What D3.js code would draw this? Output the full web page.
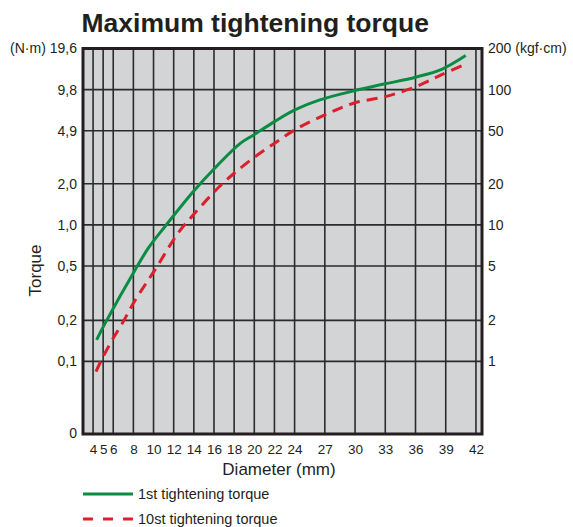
<!DOCTYPE html>
<html><head><meta charset="utf-8">
<script src="https://cdn.jsdelivr.net/npm/d3@7"></script>
<style>
body{margin:0;background:#fff;}
text{font-family:"Liberation Sans",Arial,Helvetica,sans-serif;fill:#231f20;}
</style></head>
<body>
<svg id="chart" width="573" height="527"></svg>
<script>
// ---- data ----
const diameterTicks = [4,5,6,8,10,12,14,16,18,20,22,24,27,30,33,36,39,42];
const torqueTicksNm = [19.6,9.8,4.9,2.0,1.0,0.5,0.2,0.1];
const torqueLabelsNm = ["(N·m) 19,6","9,8","4,9","2,0","1,0","0,5","0,2","0,1"];
const torqueLabelsKgf = ["200 (kgf·cm)","100","50","20","10","5","2","1"];
const firstD = [4.35,5.19,8.17,9.48,11.12,13.93,16.07,18.64,19.94,22.0,24.02,26.5,30,33,36,38.6,40.98];
const firstV = [0.144,0.19,0.468,0.675,0.97,1.75,2.6,3.97,4.56,5.71,6.96,8.24,9.64,10.8,12.08,13.8,17.4];
const tenthD = [4.29,4.9,5.91,7.0,8,9.15,10.14,12.43,13.93,15.9,16.7,18,20.1,22.24,24.02,27,29.84,33,36.04,38.6,40.98];
const tenthV = [0.0842,0.105,0.144,0.196,0.267,0.363,0.468,0.87,1.18,1.71,1.96,2.39,3.17,4.07,4.97,6.4,7.79,8.71,10.3,12.6,15.1];
const legendLabels = ["1st tightening torque","10st tightening torque"];

const svg = d3.select("#chart");
const L=83, R=482, T=48.5, B=434;
const x = d3.scaleLinear().domain([3,42.6]).range([L,R]);
const y = d3.scaleLog().domain([0.0294,19.6]).range([B,T]);

// title
svg.append("text").attr("x",81.5).attr("y",32).attr("font-size",26.5).attr("font-weight","bold")
  .text("Maximum tightening torque");

// plot background
svg.append("rect").attr("x",L).attr("y",T).attr("width",R-L).attr("height",B-T).attr("fill","#d3d4d6");

// grid
const g = svg.append("g").attr("stroke","#2b2b2b").attr("stroke-width",1.6);
g.selectAll("line.v").data(diameterTicks).join("line")
  .attr("x1",d=>x(d)).attr("x2",d=>x(d)).attr("y1",T).attr("y2",B);
g.selectAll("line.h").data(torqueTicksNm.slice(1)).join("line")
  .attr("y1",d=>y(d)).attr("y2",d=>y(d)).attr("x1",L).attr("x2",R);

// series
const line = d3.line().x(d=>x(d[0])).y(d=>y(d[1])).curve(d3.curveCatmullRom.alpha(0.5));
svg.append("path").datum(firstD.map((d,i)=>[d,firstV[i]])).attr("d",line)
  .attr("fill","none").attr("stroke","#0b8c45").attr("stroke-width",3);
svg.append("path").datum(tenthD.map((d,i)=>[d,tenthV[i]])).attr("d",line)
  .attr("fill","none").attr("stroke","#dc1f2b").attr("stroke-width",3).attr("stroke-dasharray","11,7");

// border
svg.append("rect").attr("x",L).attr("y",T).attr("width",R-L).attr("height",B-T)
  .attr("fill","none").attr("stroke","#231f20").attr("stroke-width",3);

// axes
const ax = d3.axisBottom(x).tickValues(diameterTicks).tickSize(0).tickPadding(10);
const gx = svg.append("g").attr("transform",`translate(0,${B})`).call(ax);
const ayL = d3.axisLeft(y).tickValues(torqueTicksNm).tickSize(0).tickPadding(6)
  .tickFormat((d,i)=>torqueLabelsNm[i]);
const gyL = svg.append("g").attr("transform",`translate(${L},0)`).call(ayL);
const ayR = d3.axisRight(y).tickValues(torqueTicksNm).tickSize(0).tickPadding(6)
  .tickFormat((d,i)=>torqueLabelsKgf[i]);
const gyR = svg.append("g").attr("transform",`translate(${R},0)`).call(ayR);
[gx,gyL,gyR].forEach(s=>{s.select(".domain").remove();
  s.selectAll("text").attr("font-family",null).style("fill","#231f20");});
gx.selectAll("text").attr("font-size",13.5);
gyL.selectAll("text").attr("font-size",14);
gyR.selectAll("text").attr("font-size",14);
svg.append("text").attr("x",L-6).attr("y",B).attr("dy","0.32em").attr("text-anchor","end")
  .attr("font-size",14).text("0");

// axis titles
svg.append("text").attr("x",279).attr("y",475).attr("text-anchor","middle").attr("font-size",17)
  .text("Diameter (mm)");
svg.append("text").attr("transform","translate(41,270.5) rotate(-90)").attr("text-anchor","middle")
  .attr("font-size",17).text("Torque");

// legend
const lg = svg.append("g");
lg.append("line").attr("x1",83).attr("x2",133).attr("y1",494).attr("y2",494)
  .attr("stroke","#0b8c45").attr("stroke-width",3);
lg.append("line").attr("x1",83).attr("x2",133).attr("y1",519).attr("y2",519)
  .attr("stroke","#dc1f2b").attr("stroke-width",3).attr("stroke-dasharray","10,10");
lg.append("text").attr("x",138).attr("y",499).attr("font-size",14.5).text(legendLabels[0]);
lg.append("text").attr("x",138).attr("y",524).attr("font-size",14.5).text(legendLabels[1]);
</script>
</body></html>
